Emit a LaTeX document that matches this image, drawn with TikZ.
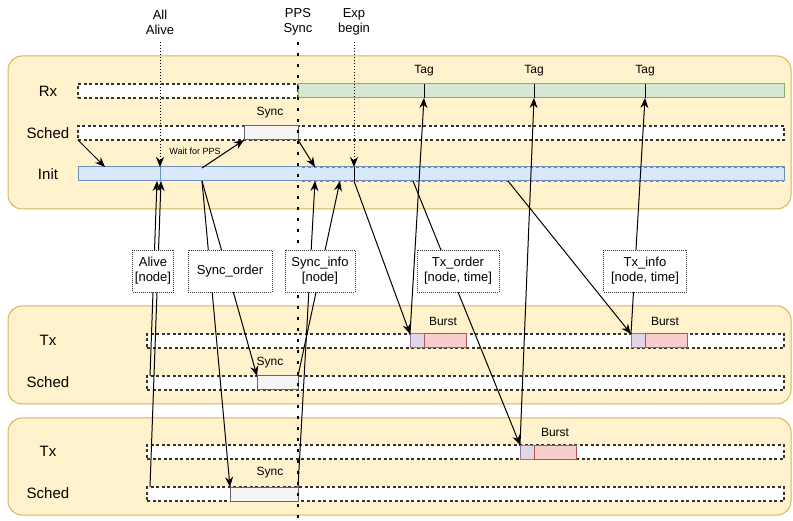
\documentclass[tikz,border=0pt]{standalone}
\usepackage{fontspec}
\setmainfont{Liberation Sans}
\usetikzlibrary{arrows.meta,calc}
\definecolor{PanelFill}{HTML}{FFF2CC}
\definecolor{PanelLine}{HTML}{D6B656}
\definecolor{RxFill}{HTML}{D5E8D4}
\definecolor{RxLine}{HTML}{82B366}
\definecolor{InitFill}{HTML}{DAE8FC}
\definecolor{InitLine}{HTML}{6C8EBF}
\definecolor{SyncFill}{HTML}{F5F5F5}
\definecolor{SyncLine}{HTML}{666666}
\definecolor{PreFill}{HTML}{E1D5E7}
\definecolor{PreLine}{HTML}{9673A6}
\definecolor{BurstFill}{HTML}{F8CECC}
\definecolor{BurstLine}{HTML}{B85450}

\begin{document}
\begin{tikzpicture}[x=1pt, y=-1pt,
      every node/.style={font=\fontsize{13}{15}\selectfont, align=center, inner sep=0pt, outer sep=0pt},
      panel/.style={draw=PanelLine, fill=PanelFill, rounded corners=14pt, line width=1pt},
      slot/.style={anchor=north west, minimum height=14pt, line width=1pt},
      idle/.style={slot, draw=black!80, fill=white, dash pattern=on 3pt off 2.5pt, line width=1.1pt},
      rxon/.style={slot, draw=RxLine, fill=RxFill},
      initon/.style={slot, draw=InitLine, fill=InitFill},
      syncslot/.style={slot, draw=SyncLine, fill=SyncFill},
      preslot/.style={slot, draw=PreLine, fill=PreFill, minimum width=14pt},
      burstslot/.style={slot, draw=BurstLine, fill=BurstFill, minimum width=42pt},
      lanelabel/.style={font=\fontsize{15}{17}\selectfont},
      small/.style={font=\fontsize{12}{14}\selectfont},
      msg/.style={draw=black!80, fill=white, dash pattern=on 1pt off 1pt, line width=0.8pt, minimum height=42pt},
      arr/.style={-{Stealth[length=10pt, width=8pt]}, line width=1pt},
      guide/.style={-{Stealth[length=10pt, width=8pt]}, dash pattern=on 1pt off 2pt, line width=0.8pt},
      ppsline/.style={line width=2.6pt, dash pattern=on 2.6pt off 8.4pt}
  ]
    \useasboundingbox (0,0) rectangle (793,521);
    % panels
    \draw[panel] (8,56) rectangle (791,209);
    \draw[panel] (8,306) rectangle (791,404);
    \draw[panel] (8,418) rectangle (791,515);

    % gateway lanes
    \node[lanelabel] (rxlbl) at (48,91) {Rx};
    \node[lanelabel] (schedlbl) at (48,133) {Sched};
    \node[lanelabel] (initlbl) at (48,174) {Init};
    \node[idle, minimum width=220pt] (rxoff) at (78,84) {};
    \node[rxon, minimum width=486pt] (rx) at (298,84) {};
    \node[idle, minimum width=706pt] (sched) at (78,126) {};
    \node[syncslot, minimum width=54pt] (syncA) at (244,126) {};
    \node[small] (syncAlbl) at (270,113) {Sync};
    \node[initon, minimum width=706pt] (init) at (78,167) {};
    \draw[InitLine!60!gray, dash pattern=on 3pt off 3pt, line width=0.8pt]
      (302,167) -- (784,167) (302,181) -- (784,181);
    \draw[InitLine, line width=1pt] (160,167) -- (160,181);
    \draw[line width=1pt] (354,167) -- (354,181);
    \foreach \x/\n in {424/A, 534/B, 645/C} {
      \node[small] (tag\n) at (\x,71) {Tag};
      \draw[line width=1pt] (\x,84) -- (\x,98) coordinate (hit\n);
    }

    % node 1 lanes
    \node[lanelabel] (txBlbl) at (48,340) {Tx};
    \node[lanelabel] (schedBlbl) at (48,382) {Sched};
    \node[idle, minimum width=637pt] (txB) at (147,334) {};
    \node[idle, minimum width=637pt] (schedB) at (147,376) {};
    \node[syncslot, minimum width=41pt] (syncB) at (257,376) {};
    \node[small] (syncBlbl) at (270,363) {Sync};
    \node[preslot] (preA) at (410,334) {};
    \node[burstslot] (burstA) at (424,334) {};
    \node[small] (burstAlbl) at (443,321) {Burst};
    \node[preslot] (preB) at (631,334) {};
    \node[burstslot] (burstB) at (645,334) {};
    \node[small] (burstBlbl) at (665,321) {Burst};

    % node 2 lanes
    \node[lanelabel] (txClbl) at (48,451) {Tx};
    \node[lanelabel] (schedClbl) at (48,493) {Sched};
    \node[idle, minimum width=637pt] (txC) at (147,445) {};
    \node[idle, minimum width=637pt] (schedC) at (147,487) {};
    \node[syncslot, minimum width=68pt] (syncC) at (230,487) {};
    \node[small] (syncClbl) at (270,473) {Sync};
    \node[preslot] (preC) at (520,445) {};
    \node[burstslot] (burstC) at (534,445) {};
    \node[small] (burstClbl) at (555,432) {Burst};

    % markers
    \node (alive) at (160,22) {All\\Alive};
    \node (pps) at (298,22) {PPS\\Sync};
    \node (exp) at (354,22) {Exp\\begin};
    \coordinate (aliveTop) at (160,42);
    \coordinate (expTop) at (354,42);
    \coordinate (ppsTop) at (298,42);
    \coordinate (ppsEnd) at (298,521);
    \coordinate (initAlive) at (160,167);
    \coordinate (initExp) at (354,167);

    % points on the init lane
    \coordinate (initIn) at (105,167);
    \coordinate (initWait) at (202,168);
    \coordinate (initSync) at (315,167);
    \coordinate (aliveB) at (157,181);
    \coordinate (aliveC) at (161,181);
    \coordinate (orderOut) at (202,181);
    \coordinate (infoC) at (315,181);
    \coordinate (infoB) at (340,181);
    \coordinate (expOut) at (354,181);
    \coordinate (txorderOut) at (413,181);
    \coordinate (txinfoOut) at (508,181);
    \coordinate (schedBin) at (150,376);
    \coordinate (schedCin) at (150,487);

    \draw[guide] (aliveTop) -- (initAlive);
    \draw[guide] (expTop) -- (initExp);
    \draw[arr] (sched.south west) -- (initIn);
    \draw[arr] (initWait) -- (syncA.south west);
    \draw[arr] (syncA.south east) -- (initSync);
    \draw[arr] (schedBin) -- (aliveB);
    \draw[arr] (schedCin) -- (aliveC);
    \draw[arr] (orderOut) -- (syncB.north west);
    \draw[arr] (orderOut) -- (syncC.north west);
    \draw[arr] (syncB.north east) -- (infoB);
    \draw[arr] (syncC.north east) -- (infoC);
    \draw[arr] (expOut) -- (preA.north west);
    \draw[arr] (txorderOut) -- (preC.north west);
    \draw[arr] (txinfoOut) -- (preB.north west);
    \draw[arr] (preA.north west) -- (hitA);
    \draw[arr] (preC.north west) -- (hitB);
    \draw[arr] (preB.north west) -- (hitC);
    \draw[ppsline] (ppsTop) -- (ppsEnd);

    \node[font=\fontsize{9}{11}\selectfont] (waitlbl) at (195,151) {Wait for PPS};

    % messages
    \node[msg, minimum width=41pt] (alivemsg) at (153,271) {Alive\\{[node]}};
    \node[msg, minimum width=84pt] (syncorder) at (230,271) {Sync\_order};
    \node[msg, minimum width=70pt] (syncinfo) at (320,271) {Sync\_info\\{[node]}};
    \node[msg, minimum width=82pt] (txorder) at (458,271) {Tx\_order\\{[node, time]}};
    \node[msg, minimum width=83pt] (txinfo) at (645,271) {Tx\_info\\{[node, time]}};
  \end{tikzpicture}
\end{document}
